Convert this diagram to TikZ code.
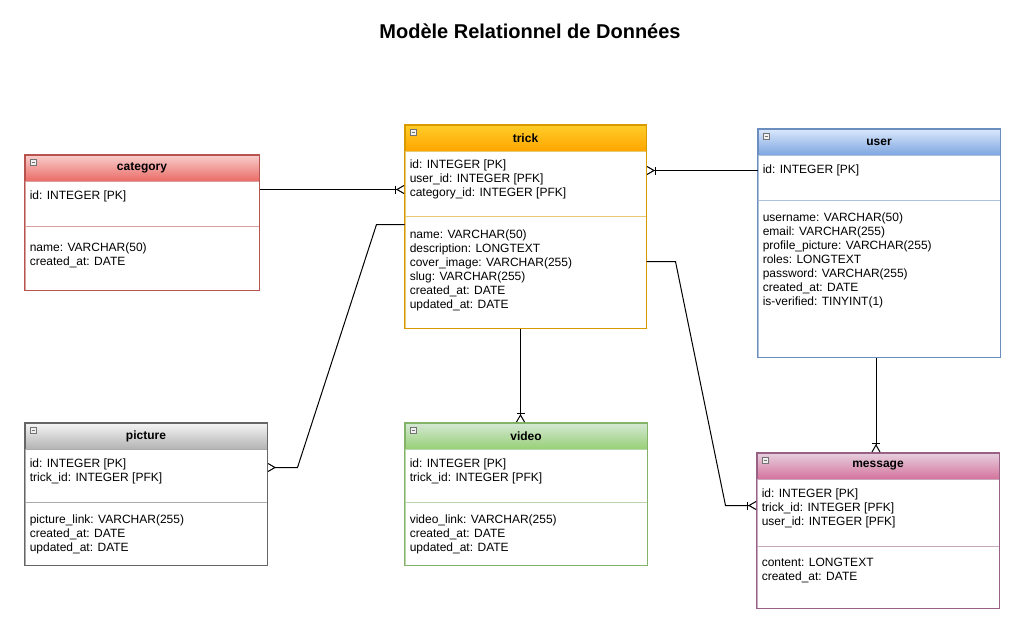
\documentclass[tikz,border=0pt]{standalone}
\usepackage{fontspec}
\setmainfont{Liberation Sans}
\usetikzlibrary{positioning,calc,fit,arrows.meta}

\begin{document}
\begin{tikzpicture}[x=0.75pt,y=-0.75pt]
	\definecolor{redtop}{HTML}{F8CECC}\definecolor{redbot}{HTML}{EA6B66}\definecolor{redline}{HTML}{B85450}
	\definecolor{orgtop}{HTML}{FFCD28}\definecolor{orgbot}{HTML}{FFA500}\definecolor{orgline}{HTML}{D79B00}
	\definecolor{blutop}{HTML}{DAE8FC}\definecolor{blubot}{HTML}{7EA6E0}\definecolor{bluline}{HTML}{6C8EBF}
	\definecolor{grytop}{HTML}{F5F5F5}\definecolor{grybot}{HTML}{B3B3B3}\definecolor{gryline}{HTML}{666666}
	\definecolor{grntop}{HTML}{D5E8D4}\definecolor{grnbot}{HTML}{97D077}\definecolor{grnline}{HTML}{82B366}
	\definecolor{pnktop}{HTML}{E6D0DE}\definecolor{pnkbot}{HTML}{D5739D}\definecolor{pnkline}{HTML}{996185}
	\tikzset{
		hdr/.style={inner sep=0pt, line width=0.75pt},
		hdrtxt/.style={inner sep=0pt, font=\bfseries\fontsize{9pt}{10.5pt}\selectfont},
		sect/.style={inner sep=0pt, line width=0.75pt, fill=white},
		tbl/.style={inner sep=0pt, line width=0.75pt},
		attr/.style={
			inner sep=0pt, anchor=north west, align=left,
			font=\fontsize{9pt}{10.5pt}\selectfont
		},
		mini/.style={
			draw=black!55, fill=black!6, minimum size=4.6pt, inner sep=0pt, line width=0.5pt,
			path picture={\draw[line width=0.55pt] ([xshift=0.9pt]path picture bounding box.west) -- ([xshift=-0.9pt]path picture bounding box.east);}
		},
		rel/.style={draw=black, line width=0.75pt},
		onemany/.style={
			rel, -{Bar[width=6pt,line width=0.75pt]Straight Barb[reversed,length=5.25pt,width=6pt,line width=0.75pt]}
		},
		many/.style={
			rel, -{Straight Barb[reversed,length=5.25pt,width=6pt,line width=0.75pt]}
		}
	}
	
	\fill[white] (0,0) rectangle (1026,639);
	\useasboundingbox (0,0) rectangle (1026,639);
	
	\node[font=\bfseries\fontsize{15pt}{18pt}\selectfont] (title) at (530,31) {Modèle Relationnel de Données};
	
	% ======= category =======
	\node[hdr, fit={(25,155) (259,181)}, draw=redline, top color=redtop, bottom color=redbot] (cath) {};
	\node[sect, fit={(25,181) (259,226)}, draw=redline!55] (catkeys) {};
	\node[sect, fit={(25,226) (259,290)}, draw=redline!55] (catattr) {};
	\node[tbl, fit=(cath)(catattr), draw=redline] (cat) {};
	\node[hdrtxt] (catht) at (cath.center) {category};
	\node[mini] (catm) at ($(cath.north west)+(9,8)$) {};
	\node[attr] (catkeyst) at ($(catkeys.north west)+(5,10)$) {id: INTEGER [PK]};
	\node[attr] (catattrt) at ($(catattr.north west)+(5,17)$) {name: VARCHAR(50)\\created\_at: DATE};
	
	% ======= trick =======
	\node[hdr, fit={(405,125) (646,151)}, draw=orgline, top color=orgtop, bottom color=orgbot] (trickh) {};
	\node[sect, fit={(405,151) (646,216)}, draw=orgline!55] (trickkeys) {};
	\node[sect, fit={(405,216) (646,328)}, draw=orgline!55] (trickattr) {};
	\node[tbl, fit=(trickh)(trickattr), draw=orgline] (trick) {};
	\node[hdrtxt] (trickht) at (trickh.center) {trick};
	\node[mini] (trickm) at ($(trickh.north west)+(9,8)$) {};
	\node[attr] (trickkeyst) at ($(trickkeys.north west)+(5,9)$) {id: INTEGER [PK]\\user\_id: INTEGER [PFK]\\category\_id: INTEGER [PFK]};
	\node[attr] (trickattrt) at ($(trickattr.north west)+(5,14)$) {name: VARCHAR(50)\\description: LONGTEXT\\cover\_image: VARCHAR(255)\\slug: VARCHAR(255)\\created\_at: DATE\\updated\_at: DATE};
	
	% ======= user =======
	\node[hdr, fit={(758,129) (1000,155)}, draw=bluline, top color=blutop, bottom color=blubot] (userh) {};
	\node[sect, fit={(758,155) (1000,200)}, draw=bluline!55] (userkeys) {};
	\node[sect, fit={(758,200) (1000,357)}, draw=bluline!55] (userattr) {};
	\node[tbl, fit=(userh)(userattr), draw=bluline] (user) {};
	\node[hdrtxt] (userht) at (userh.center) {user};
	\node[mini] (userm) at ($(userh.north west)+(9,8)$) {};
	\node[attr] (userkeyst) at ($(userkeys.north west)+(5,10)$) {id: INTEGER [PK]};
	\node[attr] (userattrt) at ($(userattr.north west)+(5,13)$) {username: VARCHAR(50)\\email: VARCHAR(255)\\profile\_picture: VARCHAR(255)\\roles: LONGTEXT\\password: VARCHAR(255)\\created\_at: DATE\\is-verified: TINYINT(1)};
	
	% ======= picture =======
	\node[hdr, fit={(25,423) (267,449)}, draw=gryline, top color=grytop, bottom color=grybot] (pich) {};
	\node[sect, fit={(25,449) (267,502)}, draw=gryline!55] (pickeys) {};
	\node[sect, fit={(25,502) (267,565)}, draw=gryline!55] (picattr) {};
	\node[tbl, fit=(pich)(picattr), draw=gryline] (pic) {};
	\node[hdrtxt] (picht) at (pich.center) {picture};
	\node[mini] (picm) at ($(pich.north west)+(9,8)$) {};
	\node[attr] (pickeyst) at ($(pickeys.north west)+(5,10)$) {id: INTEGER [PK]\\trick\_id: INTEGER [PFK]};
	\node[attr] (picattrt) at ($(picattr.north west)+(5,13)$) {picture\_link: VARCHAR(255)\\created\_at: DATE\\updated\_at: DATE};
	
	% ======= video =======
	\node[hdr, fit={(405,423) (647,449)}, draw=grnline, top color=grntop, bottom color=grnbot] (videoh) {};
	\node[sect, fit={(405,449) (647,502)}, draw=grnline!55] (videokeys) {};
	\node[sect, fit={(405,502) (647,565)}, draw=grnline!55] (videoattr) {};
	\node[tbl, fit=(videoh)(videoattr), draw=grnline] (video) {};
	\node[hdrtxt] (videoht) at (videoh.center) {video};
	\node[mini] (videom) at ($(videoh.north west)+(9,8)$) {};
	\node[attr] (videokeyst) at ($(videokeys.north west)+(5,10)$) {id: INTEGER [PK]\\trick\_id: INTEGER [PFK]};
	\node[attr] (videoattrt) at ($(videoattr.north west)+(5,13)$) {video\_link: VARCHAR(255)\\created\_at: DATE\\updated\_at: DATE};
	
	% ======= message =======
	\node[hdr, fit={(757,453) (999,479)}, draw=pnkline, top color=pnktop, bottom color=pnkbot] (msgh) {};
	\node[sect, fit={(757,479) (999,546)}, draw=pnkline!55] (msgkeys) {};
	\node[sect, fit={(757,546) (999,608)}, draw=pnkline!55] (msgattr) {};
	\node[tbl, fit=(msgh)(msgattr), draw=pnkline] (msg) {};
	\node[hdrtxt] (msght) at (msgh.center) {message};
	\node[mini] (msgm) at ($(msgh.north west)+(9,8)$) {};
	\node[attr] (msgkeyst) at ($(msgkeys.north west)+(5,10)$) {id: INTEGER [PK]\\trick\_id: INTEGER [PFK]\\user\_id: INTEGER [PFK]};
	\node[attr] (msgattrt) at ($(msgattr.north west)+(5,12)$) {content: LONGTEXT\\created\_at: DATE};
	
	% ======= relations =======
	\coordinate (vidtop) at ($(trickattr.south)+(-5,0)$);
	\coordinate (msgtop) at ($(userattr.south)+(-3,0)$);
	\draw[onemany] ($(catkeys.north east)+(0,9)$) -- ($(trickkeys.north west)+(0,39)$);
	\draw[onemany] ($(userkeys.north west)+(0,16)$) -- ($(trickkeys.north east)+(0,20)$);
	\draw[many] ($(trickattr.north west)+(0,9)$) -- ++(-28,0) -- ($(pickeys.north east)+(30,19)$) -- ($(pickeys.north east)+(0,19)$);
	\draw[onemany] (vidtop) -- (vidtop |- videoh.north);
	\draw[onemany] ($(trickattr.north east)+(0,46)$) -- ++(29,0) -- ($(msgkeys.north west)+(-31,27)$) -- ($(msgkeys.north west)+(0,27)$);
	\draw[onemany] (msgtop) -- (msgtop |- msgh.north);
	
\end{tikzpicture}
\end{document}
